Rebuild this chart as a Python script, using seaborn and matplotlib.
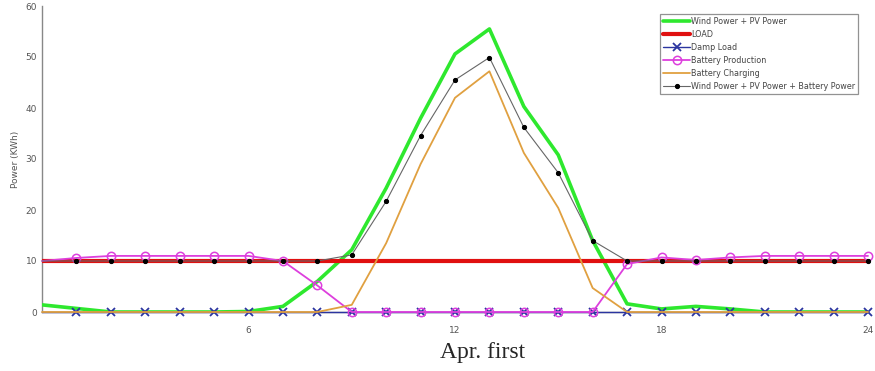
import matplotlib
matplotlib.use("Agg")
import matplotlib.pyplot as plt
import seaborn as sns

# Hourly values for one day (hour 0 .. 24)
hours = list(range(0, 25))
wind_pv = [1.4, 0.7, 0, 0, 0, 0, 0.1, 1.1, 6.0, 12.2, 24.3, 38.0, 50.6, 55.5,
           40.3, 30.8, 14.0, 1.6, 0.6, 1.1, 0.6, 0, 0, 0, 0]
load = [10] * 25
damp_load = [0] * 25
battery_production = [10, 10.6, 11, 11, 11, 11, 11, 10, 5.2, 0, 0, 0, 0, 0,
                      0, 0, 0, 9.4, 10.7, 10.2, 10.7, 11, 11, 11, 11]
battery_charging = [0, 0, 0, 0, 0, 0, 0, 0, 0, 1.4, 13.5, 29.0, 42.0, 47.2,
                    31.2, 20.4, 4.7, 0, 0, 0, 0, 0, 0, 0, 0]
total_power = [10, 10, 10, 10, 10, 10, 10, 10, 10, 11.2, 21.7, 34.6, 45.5, 49.9,
               36.2, 27.3, 14.0, 10, 10, 10, 10, 10, 10, 10, 10]

x_ticks = [6, 12, 18, 24]
y_ticks = [0, 10, 20, 30, 40, 50, 60]

sns.set_style("white")
plt.rcParams["font.family"] = ["DejaVu Sans"]

fig = plt.figure(figsize=(8.75, 3.71), dpi=100)
ax = fig.add_axes([42 / 875, 1 - 312 / 371, (868 - 42) / 875, (312 - 6) / 371])

mk = list(range(1, 25))
sns.lineplot(x=hours, y=wind_pv, ax=ax, color="#2ee82e", lw=2.6, zorder=3,
             label="Wind Power + PV Power")
sns.lineplot(x=hours, y=load, ax=ax, color="#e01010", lw=3.0, zorder=3,
             label="LOAD")
sns.lineplot(x=hours, y=damp_load, ax=ax, color="#2b35a0", lw=1.0, marker="x",
             markersize=6, markeredgewidth=1.3, markeredgecolor="#2b35a0",
             markevery=mk, clip_on=False, zorder=3, label="Damp Load")
sns.lineplot(x=hours, y=battery_production, ax=ax, color="#dd3fdd", lw=1.3,
             marker="o", markersize=6, markerfacecolor="none",
             markeredgecolor="#dd3fdd", markeredgewidth=1.1, markevery=mk,
             clip_on=False, zorder=3, label="Battery Production")
sns.lineplot(x=hours, y=battery_charging, ax=ax, color="#e0a040", lw=1.3,
             clip_on=False, zorder=3, label="Battery Charging")
sns.lineplot(x=hours, y=total_power, ax=ax, color="#666666", lw=0.8,
             marker="o", markersize=3, markerfacecolor="black",
             markeredgecolor="black", markevery=mk, clip_on=False, zorder=3,
             label="Wind Power + PV Power + Battery Power")

ax.set_xlim(0, 24)
ax.set_ylim(0, 60)
ax.set_xticks(x_ticks)
ax.set_yticks(y_ticks)
ax.tick_params(axis="both", direction="in", length=4, width=0.8,
               labelsize=6.5, labelcolor="#555555", color="#555555")
ax.tick_params(axis="x", pad=10)
ax.set_xlabel("")
ax.set_ylabel("Power (KWh)", fontsize=6.5, color="#555555", labelpad=4)

for side in ["top", "right"]:
    ax.spines[side].set_visible(False)
for side in ["left", "bottom"]:
    ax.spines[side].set_color("#888888")
    ax.spines[side].set_linewidth(1.0)

leg = ax.legend(loc="upper right", bbox_to_anchor=(858 / 875, 1 - 14 / 371),
                bbox_transform=fig.transFigure, fontsize=5.8, frameon=True,
                fancybox=False, edgecolor="#777777", handlelength=3.4,
                handletextpad=0.1, labelspacing=0.5, borderpad=0.35,
                borderaxespad=0)
leg.set_zorder(10)
leg.get_frame().set_linewidth(0.9)
for t in leg.get_texts():
    t.set_color("#444444")

fig.text(483 / 875, 1 - 358 / 371, "Apr. first", ha="center", va="baseline",
         fontsize=17, family=["Liberation Serif"])

fig.savefig("out.png", dpi=100)
